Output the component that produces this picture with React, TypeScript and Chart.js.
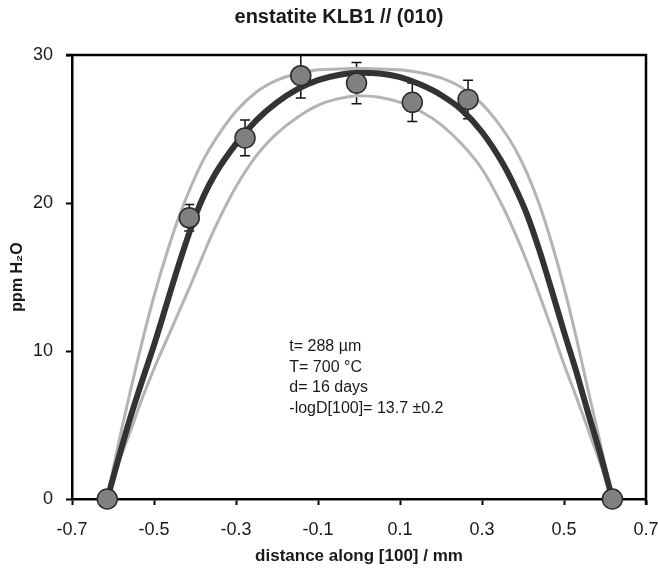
import React, { useEffect, useRef } from 'react';
import { Chart, registerables } from 'chart.js';

Chart.register(...registerables);

const TITLE = 'enstatite KLB1 // (010)';
const X_TITLE = 'distance along [100] / mm';
const Y_TITLE = 'ppm H₂O';
const X_TICKS = [-0.7, -0.5, -0.3, -0.1, 0.1, 0.3, 0.5, 0.7];
const Y_TICKS = [0, 10, 20, 30];
const NOTE_LINES = ['t= 288 µm', 'T= 700 °C', 'd= 16 days', '-logD[100]= 13.7 ±0.2'];

// measured profile
const pointX = [-0.614, -0.414, -0.278, -0.142, -0.006, 0.13, 0.266, 0.618];
const pointY = [0, 19.0, 24.4, 28.6, 28.1, 26.8, 27.0, 0];
const pointErr = [0, 0.9, 1.2, 1.5, 1.4, 1.3, 1.3, 0];

// fitted diffusion curves
const curveX = [-0.614, -0.59, -0.56, -0.53, -0.5, -0.47, -0.44, -0.41, -0.38, -0.35, -0.3, -0.25, -0.2, -0.15, -0.1, -0.05, 0, 0.05, 0.1, 0.15, 0.2, 0.25, 0.3, 0.35, 0.38, 0.41, 0.44, 0.47, 0.5, 0.53, 0.56, 0.59, 0.618];
const fitY = [0, 2.4, 5.3, 7.9, 10.4, 13.1, 15.8, 18.3, 20.4, 22.0, 24.0, 25.6, 26.8, 27.7, 28.3, 28.65, 28.8, 28.75, 28.5, 28.0, 27.3, 26.3, 24.8, 22.7, 21.1, 19.2, 16.8, 14.1, 11.3, 8.6, 5.7, 2.9, 0];
const upperY = [0, 3.3, 7.0, 10.5, 13.7, 16.5, 19.0, 21.1, 22.9, 24.3, 26.2, 27.5, 28.3, 28.75, 29.0, 29.05, 29.1, 29.05, 29.0, 28.8, 28.45, 27.8, 26.7, 25.0, 23.7, 22.0, 19.9, 17.3, 14.3, 10.9, 7.2, 3.6, 0];
const lowerY = [0, 2.2, 4.4, 6.7, 8.8, 10.7, 12.6, 14.5, 16.5, 18.4, 21.1, 23.2, 24.7, 25.8, 26.6, 27.05, 27.25, 27.15, 26.8, 26.2, 25.3, 24.0, 22.3, 19.8, 18.0, 16.0, 13.8, 11.5, 9.1, 6.9, 4.6, 2.3, 0];

const NOTE_AT = { x: -0.17, y: 10.3 };

const FONT = "'Liberation Sans', Arial, Helvetica, sans-serif";

const decorPlugin = {
  id: 'decor',
  beforeDatasetsDraw(chart: any) {
    const { ctx, chartArea: a, scales } = chart;
    const xs = scales.x;
    const ys = scales.y;
    ctx.save();
    ctx.strokeStyle = '#000';
    ctx.lineWidth = 2.5;
    ctx.beginPath();
    ctx.moveTo(a.left - 6, a.top);
    ctx.lineTo(a.right, a.top);
    ctx.lineTo(a.right, a.bottom + 6);
    ctx.stroke();
    ctx.beginPath();
    ctx.rect(a.left, a.top, a.right - a.left, a.bottom - a.top);
    ctx.clip();
    ctx.lineWidth = 1.5;
    ctx.strokeStyle = '#111';
    pointX.forEach((x, i) => {
      const e = pointErr[i];
      if (!e) return;
      const px = xs.getPixelForValue(x);
      const y1 = ys.getPixelForValue(pointY[i] + e);
      const y2 = ys.getPixelForValue(pointY[i] - e);
      ctx.beginPath();
      ctx.moveTo(px, y1);
      ctx.lineTo(px, y2);
      ctx.moveTo(px - 5, y1);
      ctx.lineTo(px + 5, y1);
      ctx.moveTo(px - 5, y2);
      ctx.lineTo(px + 5, y2);
      ctx.stroke();
    });
    ctx.restore();
  },
  afterDraw(chart: any) {
    const { ctx, scales } = chart;
    ctx.save();
    ctx.fillStyle = '#1a1a1a';
    ctx.textAlign = 'left';
    ctx.textBaseline = 'middle';
    ctx.font = `16px ${FONT}`;
    const nx = scales.x.getPixelForValue(NOTE_AT.x);
    const ny = scales.y.getPixelForValue(NOTE_AT.y);
    NOTE_LINES.forEach((t, i) => ctx.fillText(t, nx, ny + i * 20.7));
    ctx.font = `bold 20px ${FONT}`;
    ctx.textAlign = 'center';
    ctx.fillText(TITLE, 339, 17);
    ctx.restore();
  },
};

export default function App() {
  const ref = useRef<HTMLCanvasElement | null>(null);
  useEffect(() => {
    if (!ref.current) return;
    const toPts = (ys: number[]) => curveX.map((x, i) => ({ x, y: ys[i] }));
    const chart = new Chart(ref.current, {
      type: 'line',
      data: {
        datasets: [
          {
            label: 'data',
            data: pointX.map((x, i) => ({ x, y: pointY[i] })),
            showLine: false,
            pointRadius: 10,
            pointBackgroundColor: '#808080',
            pointBorderColor: '#2a2a2a',
            pointBorderWidth: 1.5,
            clip: false,
            order: 0,
          } as any,
          {
            label: 'fit',
            data: toPts(fitY),
            borderColor: '#333333',
            borderWidth: 6,
            pointRadius: 0,
            cubicInterpolationMode: 'monotone',
            order: 1,
          },
          {
            label: 'upper',
            data: toPts(upperY),
            borderColor: '#b4b4b4',
            borderWidth: 3,
            pointRadius: 0,
            cubicInterpolationMode: 'monotone',
            order: 2,
          },
          {
            label: 'lower',
            data: toPts(lowerY),
            borderColor: '#b4b4b4',
            borderWidth: 3,
            pointRadius: 0,
            cubicInterpolationMode: 'monotone',
            order: 3,
          },
        ],
      },
      options: {
        responsive: false,
        animation: false,
        devicePixelRatio: 1,
        layout: { padding: { left: 0, right: 12, top: 55, bottom: 0 } },
        plugins: { legend: { display: false }, tooltip: { enabled: false }, title: { display: false } },
        scales: {
          x: {
            type: 'linear',
            min: -0.7,
            max: 0.7,
            afterBuildTicks: (s: any) => {
              s.ticks = X_TICKS.map((v) => ({ value: v }));
            },
            afterFit: (s: any) => {
              s.height = 75;
              s.paddingLeft = 0;
              s.paddingRight = 0;
            },
            ticks: {
              callback: (v: any) => Number(v).toFixed(1),
              font: { family: FONT, size: 18 },
              color: '#1a1a1a',
              padding: 14,
              maxRotation: 0,
              autoSkip: false,
            },
            grid: { drawOnChartArea: false, drawTicks: true, tickLength: 6, tickWidth: 2, tickColor: '#000' },
            border: { display: true, color: '#000', width: 2.5 },
            title: {
              display: true,
              text: X_TITLE,
              font: { family: FONT, size: 17, weight: 'bold' },
              color: '#1a1a1a',
              padding: { top: 0, bottom: 7 },
            },
          },
          y: {
            type: 'linear',
            min: 0,
            max: 30,
            afterBuildTicks: (s: any) => {
              s.ticks = Y_TICKS.map((v) => ({ value: v }));
            },
            afterFit: (s: any) => {
              s.width = 72;
              s.paddingTop = 0;
              s.paddingBottom = 0;
            },
            ticks: {
              font: { family: FONT, size: 18 },
              color: '#1a1a1a',
              padding: 13,
            },
            grid: { drawOnChartArea: false, drawTicks: true, tickLength: 6, tickWidth: 2, tickColor: '#000' },
            border: { display: true, color: '#000', width: 2.5 },
            title: {
              display: true,
              text: Y_TITLE,
              font: { family: FONT, size: 16, weight: 'bold' },
              color: '#1a1a1a',
              padding: { top: 8, bottom: 0 },
            },
          },
        },
      },
      plugins: [decorPlugin],
    });
    return () => chart.destroy();
  }, []);
  return (
    <div style={{ position: 'fixed', left: 0, top: 0, width: 658, height: 574, background: '#fff' }}>
      <canvas ref={ref} width={658} height={574} style={{ display: 'block', width: 658, height: 574 }} />
    </div>
  );
}
